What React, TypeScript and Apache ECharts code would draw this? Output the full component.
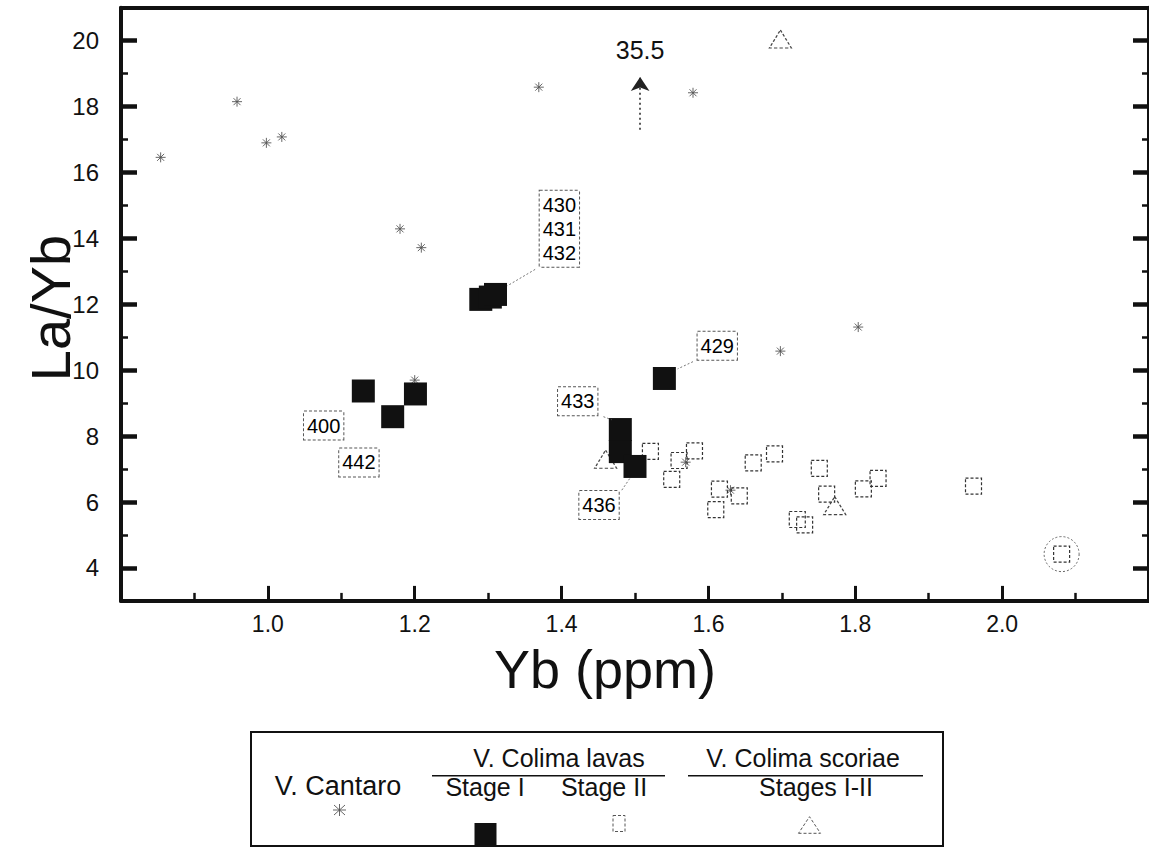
import React, { useEffect, useRef } from "react";
import * as echarts from "echarts";

// ---- data ----
const cantaroX = [0.854, 0.958, 0.998, 1.019, 1.18, 1.209, 1.369, 1.579, 1.2, 1.698, 1.804, 1.63, 1.569];
const cantaroY = [16.46, 18.15, 16.9, 17.08, 14.29, 13.72, 18.59, 18.42, 9.7, 10.58, 11.31, 6.36, 7.21];

const stage1X = [1.13, 1.17, 1.201, 1.29, 1.303, 1.31, 1.54, 1.48, 1.48, 1.5];
const stage1Y = [9.37, 8.59, 9.28, 12.15, 12.22, 12.3, 9.75, 8.2, 7.53, 7.08];

const stage2X = [1.521, 1.581, 1.56, 1.55, 1.661, 1.69, 1.61, 1.615, 1.642, 1.751, 1.761, 1.721, 1.731, 1.811, 1.831, 1.961, 2.081];
const stage2Y = [7.54, 7.55, 7.26, 6.69, 7.19, 7.46, 5.77, 6.39, 6.19, 7.02, 6.24, 5.47, 5.31, 6.4, 6.72, 6.48, 4.42];

const scoriaeX = [1.46, 1.772, 1.698];
const scoriaeY = [7.3, 5.89, 20.05];

// off-scale scoria sample (La/Yb = 35.5) drawn as an arrow
const offscaleX = 1.507;
const offscaleValue = "35.5";
const offscaleArrowFrom = 17.3;
const offscaleArrowTo = 18.9;

const circledX = [2.081];
const circledY = [4.42];

const annLabels = ["430\n431\n432", "429", "433", "436", "400", "442"];
const annX = [1.397, 1.612, 1.422, 1.451, 1.076, 1.124];
const annY = [14.29, 10.74, 9.06, 5.91, 8.32, 7.2];

const leaders = [
  [1.364, 13.06, 1.326, 12.56],
  [1.457, 8.59, 1.468, 8.5],
  [1.482, 6.36, 1.493, 6.72],
  [1.579, 10.26, 1.558, 10.04],
];

const yMajor = [4, 6, 8, 10, 12, 14, 16, 18, 20];

const FONT = "Liberation Sans, Arial, Helvetica, sans-serif";
const INK = "#111";
const STAR = "path://M0,5L10,5M5,0L5,10M1.5,1.5L8.5,8.5M8.5,1.5L1.5,8.5";

const zip = (xs: number[], ys: number[]) => xs.map((x, i) => [x, ys[i]]);

export default function App() {
  const ref = useRef<HTMLDivElement>(null);

  useEffect(() => {
    if (!ref.current) return;
    const chart = echarts.init(ref.current, undefined, { renderer: "svg" });

    const yBase = (pos: "left" | "right", labels: boolean) => ({
      type: "value",
      position: pos,
      min: 3,
      max: 21,
      interval: 1,
      splitLine: { show: false },
      axisLine: { show: true, onZero: false, lineStyle: { color: INK, width: 4 } },
      axisTick: { show: true, inside: true, length: 7, lineStyle: { color: INK, width: 2.5 } },
      axisLabel: {
        show: labels,
        margin: 22,
        fontSize: 24,
        fontFamily: FONT,
        color: INK,
        formatter: (v: number) => (Math.round(v) % 2 === 0 ? String(Math.round(v)) : ""),
      },
    });
    const yMajorAxis = (pos: "left" | "right") => ({
      type: "value",
      position: pos,
      min: 3,
      max: 21,
      interval: 1,
      splitLine: { show: false },
      axisLine: { show: false },
      axisLabel: { show: false },
      axisTick: {
        show: true,
        inside: true,
        length: 16,
        customValues: yMajor,
        lineStyle: { color: INK, width: 4.5 },
      },
    });

    const option: any = {
      animation: false,
      backgroundColor: "#fff",
      grid: { left: 121, top: 7.75, width: 1032, height: 593.15, containLabel: false },
      xAxis: [
        {
          type: "value",
          min: 0.8,
          max: 2.2,
          interval: 0.2,
          position: "bottom",
          splitLine: { show: false },
          axisLine: { show: true, onZero: false, lineStyle: { color: INK, width: 4 } },
          axisTick: { show: true, inside: true, length: 15, lineStyle: { color: INK, width: 3 } },
          minorTick: { show: true, splitNumber: 2, length: 8, lineStyle: { color: INK, width: 2.5 } },
          axisLabel: {
            margin: 12,
            fontSize: 23,
            fontFamily: FONT,
            color: INK,
            showMinLabel: false,
            showMaxLabel: false,
            formatter: (v: number) => v.toFixed(1),
          },
        },
        {
          type: "value",
          min: 0.8,
          max: 2.2,
          position: "top",
          splitLine: { show: false },
          axisLine: { show: true, onZero: false, lineStyle: { color: INK, width: 4 } },
          axisTick: { show: false },
          axisLabel: { show: false },
        },
      ],
      yAxis: [yBase("left", true), yMajorAxis("left"), yBase("right", false), yMajorAxis("right")],
      series: [
        {
          name: "V. Cantaro",
          type: "scatter",
          symbol: STAR,
          symbolSize: 10,
          data: zip(cantaroX, cantaroY),
          itemStyle: { color: "rgba(0,0,0,0)", borderColor: "#555", borderWidth: 0.9, opacity: 1 },
          z: 3,
        },
        {
          name: "Stage II",
          type: "scatter",
          symbol: "rect",
          symbolSize: 16,
          data: zip(stage2X, stage2Y),
          itemStyle: { color: "rgba(0,0,0,0)", borderColor: "#333", borderWidth: 1.2, borderType: [3, 2], opacity: 1 },
          z: 3,
        },
        {
          name: "circled",
          type: "scatter",
          symbol: "circle",
          symbolSize: 35,
          data: zip(circledX, circledY),
          itemStyle: { color: "rgba(0,0,0,0)", borderColor: "#666", borderWidth: 1, borderType: [2, 2], opacity: 1 },
          z: 2,
        },
        {
          name: "Stages I-II",
          type: "scatter",
          symbol: "triangle",
          symbolSize: [22, 18],
          data: zip(scoriaeX, scoriaeY),
          itemStyle: { color: "rgba(0,0,0,0)", borderColor: "#444", borderWidth: 1.2, borderType: [3, 2], opacity: 1 },
          z: 3,
          markLine: {
            silent: true,
            symbol: ["none", "arrow"],
            symbolSize: 14,
            lineStyle: { color: "#222", width: 1.5, type: [2, 3] },
            label: {
              show: true,
              position: "end",
              distance: 14,
              formatter: offscaleValue,
              fontSize: 25,
              fontFamily: FONT,
              color: INK,
            },
            data: [[{ coord: [offscaleX, offscaleArrowFrom] }, { coord: [offscaleX, offscaleArrowTo] }]],
          },
        },
        {
          name: "Stage I",
          type: "scatter",
          symbol: "rect",
          symbolSize: 23,
          data: zip(stage1X, stage1Y),
          itemStyle: { color: INK, opacity: 1 },
          z: 4,
        },
        {
          name: "labels",
          type: "scatter",
          symbolSize: 0,
          data: annLabels.map((t, i) => ({ name: t, value: [annX[i], annY[i]] })),
          itemStyle: { opacity: 1 },
          label: {
            show: true,
            position: "inside",
            formatter: (p: any) => p.name,
            fontSize: 20,
            lineHeight: 24,
            fontFamily: FONT,
            color: "#000",
            backgroundColor: "#fff",
            borderColor: "#555",
            borderWidth: 1,
            borderType: [3, 2],
            padding: [3, 3, 1, 3],
          },
          z: 5,
          markLine: {
            silent: true,
            symbol: ["none", "none"],
            lineStyle: { color: "#777", width: 1, type: [2, 2] },
            label: { show: false },
            data: leaders.map((l) => [{ coord: [l[0], l[1]] }, { coord: [l[2], l[3]] }]),
          },
        },
      ],
      graphic: [
        {
          type: "text",
          x: 605,
          y: 669,
          style: { text: "Yb (ppm)", align: "center", verticalAlign: "middle", fontSize: 54, fontFamily: FONT, fill: INK },
        },
        {
          type: "text",
          x: 50,
          y: 308,
          rotation: Math.PI / 2,
          style: { text: "La/Yb", align: "center", verticalAlign: "middle", fontSize: 56, fontFamily: FONT, fill: INK },
        },
        // legend box
        {
          type: "group",
          children: [
            { type: "rect", shape: { x: 251, y: 732, width: 692, height: 114 }, style: { fill: "#fff", stroke: INK, lineWidth: 2 } },
            { type: "text", x: 338, y: 786, style: { text: "V. Cantaro", align: "center", verticalAlign: "middle", fontSize: 27, fontFamily: FONT, fill: INK } },
            { type: "line", shape: { x1: 333, y1: 810, x2: 346, y2: 810 }, style: { stroke: "#555", lineWidth: 0.9 } },
            { type: "line", shape: { x1: 339.5, y1: 804, x2: 339.5, y2: 816 }, style: { stroke: "#555", lineWidth: 0.9 } },
            { type: "line", shape: { x1: 334, y1: 805, x2: 345, y2: 815 }, style: { stroke: "#555", lineWidth: 0.9 } },
            { type: "line", shape: { x1: 345, y1: 805, x2: 334, y2: 815 }, style: { stroke: "#555", lineWidth: 0.9 } },
            { type: "text", x: 559, y: 758, style: { text: "V. Colima lavas", align: "center", verticalAlign: "middle", fontSize: 25, fontFamily: FONT, fill: INK } },
            { type: "line", shape: { x1: 432, y1: 775.7, x2: 665, y2: 775.7 }, style: { stroke: INK, lineWidth: 1.5 } },
            { type: "text", x: 803, y: 758, style: { text: "V. Colima scoriae", align: "center", verticalAlign: "middle", fontSize: 25, fontFamily: FONT, fill: INK } },
            { type: "line", shape: { x1: 688, y1: 775.7, x2: 923, y2: 775.7 }, style: { stroke: INK, lineWidth: 1.5 } },
            { type: "text", x: 485, y: 787, style: { text: "Stage I", align: "center", verticalAlign: "middle", fontSize: 25, fontFamily: FONT, fill: INK } },
            { type: "text", x: 604, y: 787, style: { text: "Stage II", align: "center", verticalAlign: "middle", fontSize: 25, fontFamily: FONT, fill: INK } },
            { type: "text", x: 816, y: 787, style: { text: "Stages I-II", align: "center", verticalAlign: "middle", fontSize: 25, fontFamily: FONT, fill: INK } },
            { type: "rect", shape: { x: 474.5, y: 823, width: 22, height: 22 }, style: { fill: INK } },
            { type: "rect", shape: { x: 613, y: 815.5, width: 12, height: 16 }, style: { fill: "none", stroke: "#555", lineWidth: 1, lineDash: [3, 2] } },
            { type: "polygon", shape: { points: [[798.5, 833.3], [820.5, 833.3], [809.5, 816.7]] }, style: { fill: "none", stroke: "#555", lineWidth: 1, lineDash: [3, 2] } },
          ],
        },
      ],
    };

    chart.setOption(option);
    return () => chart.dispose();
  }, []);

  return <div ref={ref} style={{ position: "fixed", left: 0, top: 0, width: 1149, height: 849, background: "#fff" }} />;
}
